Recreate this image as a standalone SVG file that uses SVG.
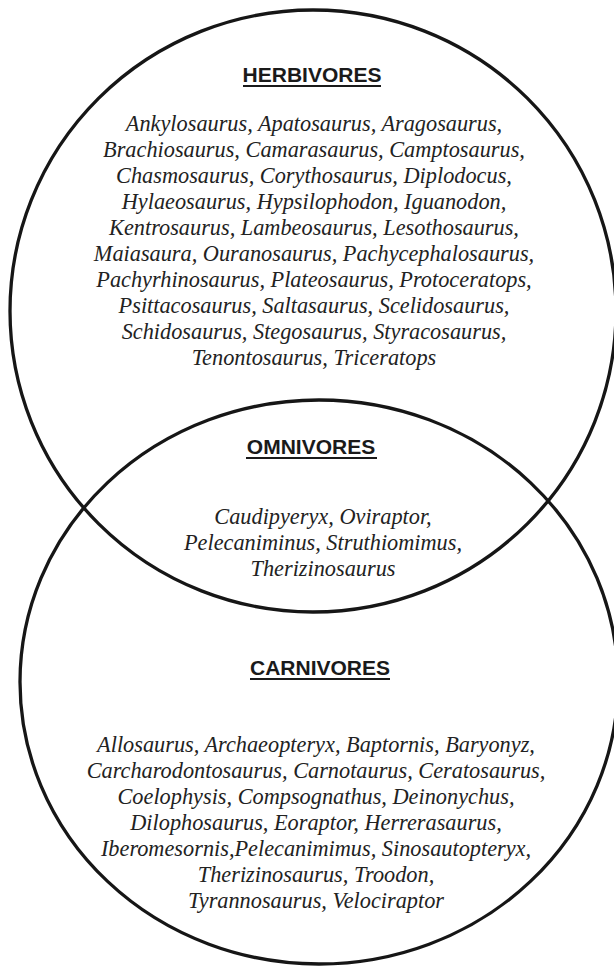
<svg xmlns="http://www.w3.org/2000/svg" width="614" height="966" viewBox="0 0 614 966">
<style>
.ring{fill:none;stroke:#161616;stroke-width:3.3}
.ul{stroke:#1a1a1a;stroke-width:2.2}
</style>
<rect width="614" height="966" fill="#fff"/>
<g id="herbivores">
<ellipse class="ring" cx="313" cy="311" rx="303" ry="301"/>
<text font-family="Liberation Sans" font-weight="bold" font-size="21" fill="#1a1a1a" text-anchor="middle" x="312" y="82">HERBIVORES</text>
<line class="ul" x1="243" y1="86" x2="381" y2="86"/>
<g font-family="Liberation Serif" font-style="italic" font-size="22.3" fill="#222" text-anchor="middle">
<text x="314" y="131">Ankylosaurus, Apatosaurus, Aragosaurus,</text>
<text x="314" y="157">Brachiosaurus, Camarasaurus, Camptosaurus,</text>
<text x="314" y="183">Chasmosaurus, Corythosaurus, Diplodocus,</text>
<text x="314" y="209">Hylaeosaurus, Hypsilophodon, Iguanodon,</text>
<text x="314" y="235">Kentrosaurus, Lambeosaurus, Lesothosaurus,</text>
<text x="314" y="261">Maiasaura, Ouranosaurus, Pachycephalosaurus,</text>
<text x="314" y="287">Pachyrhinosaurus, Plateosaurus, Protoceratops,</text>
<text x="314" y="313">Psittacosaurus, Saltasaurus, Scelidosaurus,</text>
<text x="314" y="339">Schidosaurus, Stegosaurus, Styracosaurus,</text>
<text x="314" y="365">Tenontosaurus, Triceratops</text>
</g>
</g>
<g id="carnivores">
<ellipse class="ring" cx="319" cy="682" rx="299" ry="282"/>
<text font-family="Liberation Sans" font-weight="bold" font-size="21" fill="#1a1a1a" text-anchor="middle" x="320" y="675">CARNIVORES</text>
<line class="ul" x1="250" y1="679" x2="390" y2="679"/>
<g font-family="Liberation Serif" font-style="italic" font-size="22.3" fill="#222" text-anchor="middle">
<text x="316" y="752">Allosaurus, Archaeopteryx, Baptornis, Baryonyz,</text>
<text x="316" y="778">Carcharodontosaurus, Carnotaurus, Ceratosaurus,</text>
<text x="316" y="804">Coelophysis, Compsognathus, Deinonychus,</text>
<text x="316" y="830">Dilophosaurus, Eoraptor, Herrerasaurus,</text>
<text x="316" y="856">Iberomesornis,Pelecanimimus, Sinosautopteryx,</text>
<text x="316" y="882">Therizinosaurus, Troodon,</text>
<text x="316" y="908">Tyrannosaurus, Velociraptor</text>
</g>
</g>
<g id="omnivores">
<text font-family="Liberation Sans" font-weight="bold" font-size="21" fill="#1a1a1a" text-anchor="middle" x="311" y="454">OMNIVORES</text>
<line class="ul" x1="246" y1="458" x2="377" y2="458"/>
<g font-family="Liberation Serif" font-style="italic" font-size="22.3" fill="#222" text-anchor="middle">
<text x="323" y="524">Caudipyeryx, Oviraptor,</text>
<text x="323" y="550">Pelecaniminus, Struthiomimus,</text>
<text x="323" y="576">Therizinosaurus</text>
</g>
</g>
<g id="connectors"></g>
</svg>
